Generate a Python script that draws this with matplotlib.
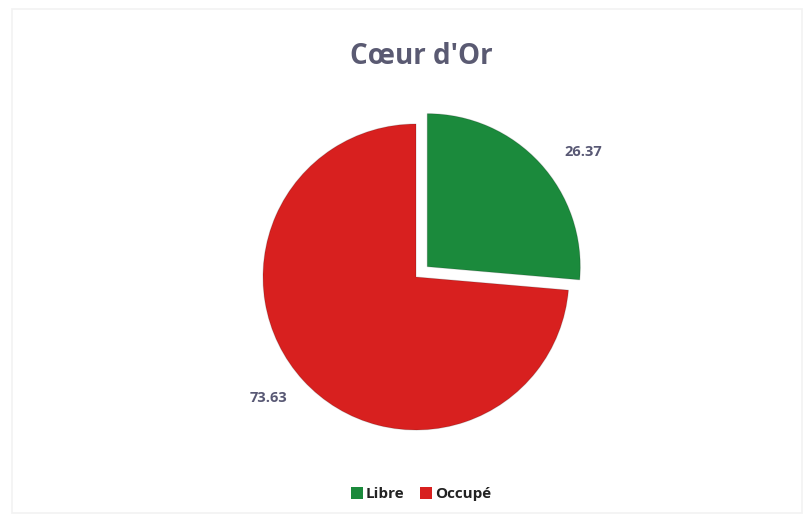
import matplotlib
matplotlib.use("Agg")
import matplotlib.pyplot as plt
from matplotlib.patches import Rectangle

title = "Cœur d'Or"
categories = ["Libre", "Occupé"]
values = [26.37, 73.63]
colors = ["#1b8a3c", "#d8201f"]
explode = [0.1, 0.0]

plt.rcParams['font.family'] = ['Open Sans', 'DejaVu Sans']
fig = plt.figure(figsize=(8.1, 5.21), dpi=100)
fig.patch.set_facecolor("white")

# faint chart frame
fig.patches.append(Rectangle((12/810, 8/521), 790/810, 504/521, transform=fig.transFigure,
                             fill=False, edgecolor="#f2f2f2", linewidth=1.2))

size = 340
cx, cy = 416, 277
ax = fig.add_axes([(cx - size/2)/810, (521 - cy - size/2)/521, size/810, size/521])
r = size/2/153
wedges, texts = ax.pie(values, colors=colors, startangle=90, counterclock=False,
                       explode=explode, radius=1.0,
                       wedgeprops=dict(edgecolor=(0, 0, 0, 0.15), linewidth=0.8))
ax.set_xlim(-r, r)
ax.set_ylim(-r, r)
ax.set_aspect('equal')
ax.axis('off')

# data labels
label_pos = [(583, 152), (268, 398)]
for v, (x, y) in zip(values, label_pos):
    fig.text(x/810, 1 - y/521, f"{v:.2f}", ha='center', va='center', fontsize=10.5,
             fontweight='bold', color="#585874")

fig.text(421/810, 1 - 56/521, title, ha='center', va='center', fontsize=20,
         fontweight='bold', color="#5a5a72")

handles = [Rectangle((0, 0), 1, 1, facecolor=c) for c in colors]
leg = fig.legend(handles, categories, loc='center', bbox_to_anchor=(421/810, 1 - 494/521),
                 ncol=2, frameon=False, fontsize=11, handlelength=0.8, handleheight=0.8,
                 handletextpad=0.2, columnspacing=1.0)
for t in leg.get_texts():
    t.set_fontweight('bold')
    t.set_color("#222222")

fig.savefig("out.png", dpi=100, facecolor="white")
